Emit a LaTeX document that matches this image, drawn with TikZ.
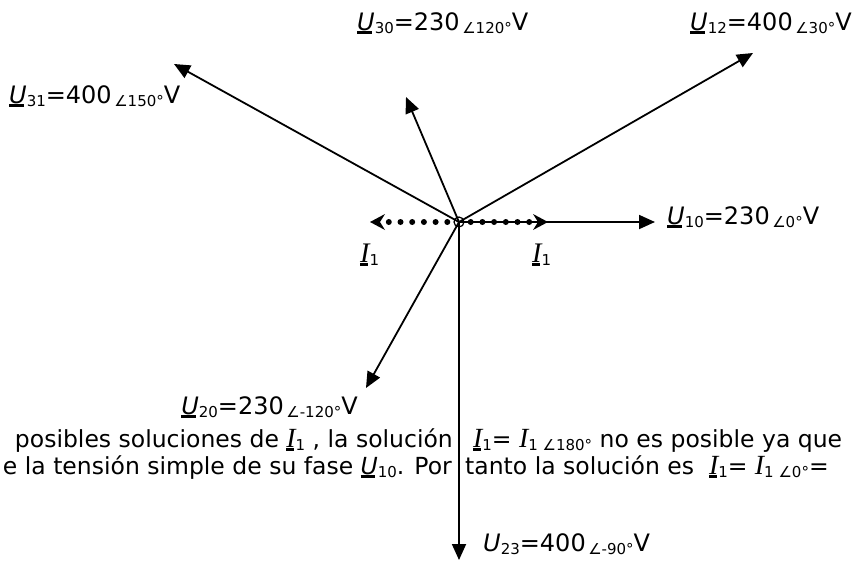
\documentclass[tikz,border=0pt]{standalone}
\usepackage{fontspec}
\usepackage{graphicx}
\setmainfont{DejaVu Sans}
\newfontfamily\serifI{Liberation Serif}
\usetikzlibrary{arrows.meta}
\newcommand\lo[1]{\raisebox{-0.3ex}{\fontsize{15}{15}\selectfont #1}}
\newcommand\vu[1]{\setbox0\hbox{#1}\rlap{\rule[-3.5pt]{0.85\wd0}{2.6pt}}\box0}
\newcommand\cI{\scalebox{1.18}{\serifI\itshape I}}
\newcommand\cU{\textit{U}}
\newcommand\phlab[4]{#1\lo{#2}=#3\lo{\,∠#4°}V}
\begin{document}
\begin{tikzpicture}[x=1pt,y=-1pt,
  vec/.style={line width=1.8pt,-{Triangle[length=16pt,width=14pt]}},
  dotvec/.style={line width=6pt,line cap=round,dash pattern=on 0pt off 11.7pt,
     -{Stealth[length=15pt,width=16pt,inset=5pt,line width=0pt]}},
  lab/.style={font=\fontsize{24}{24}\selectfont,inner sep=0pt},
  body/.style={font=\fontsize{23.5}{24}\selectfont,inner sep=0pt}]
\useasboundingbox (0,0) rectangle (856,562);
\node[circle,draw,line width=1.2pt,minimum size=10pt,inner sep=0pt] (O) at (459,222) {};
\coordinate (u10) at (655,222);
\coordinate (u12) at (753,53);
\coordinate (u30) at (406,97);
\coordinate (u31) at (174,64);
\coordinate (u20) at (366,388);
\coordinate (u23) at (459,560);
\coordinate (i1r) at (548,222);
\coordinate (i1l) at (370,222);
\draw[vec] (O.center) -- (u10);
\draw[vec] (O.center) -- (u12);
\draw[vec] (O.center) -- (u30);
\draw[vec] (O.center) -- (u31);
\draw[vec] (O.center) -- (u20);
\draw[vec] (O.center) -- (u23);
\draw[dotvec] ([xshift=11.7pt]O.center) -- (i1r);
\draw[dotvec] ([xshift=-11.7pt]O.center) -- (i1l);
% labels
\node[lab,anchor=base west] (l30) at (357,30) {\phlab{\vu{\cU}}{30}{230}{120}};
\node[lab,anchor=base west] (l12) at (690,30) {\phlab{\vu{\cU}}{12}{400}{30}};
\node[lab,anchor=base west] (l31) at (9,103) {\phlab{\vu{\cU}}{31}{400}{150}};
\node[lab,anchor=base west] (l10) at (667,224) {\phlab{\vu{\cU}}{10}{230}{0}};
\node[lab,anchor=base east] (l20) at (358,414) {\phlab{\vu{\cU}}{20}{230}{-120}};
\node[lab,anchor=base west] (l23) at (483,551) {\phlab{\cU}{23}{400}{-90}};
\node[lab,anchor=base west] (li1l) at (360,262) {\vu{\cI}\lo{1}};
\node[lab,anchor=base west] (li1r) at (532,262) {\vu{\cI}\lo{1}};
% text
\node[body,anchor=base east] (t1a) at (453,447) {posibles soluciones de \vu{\cI}\lo{1} , la solución};
\node[body,anchor=base west] (t1b) at (473,447) {\vu{\cI}\lo{1}= \cI\lo{1 ∠180°} no es posible ya que};
\node[body,anchor=base east] (t2a) at (452,474) {e la tensión simple de su fase \vu{\cU}\lo{10}. Por};
\node[body,anchor=base west] (t2b) at (465,474) {tanto la solución es \ \vu{\cI}\lo{1}= \cI\lo{1 ∠0°}=};
\end{tikzpicture}
\end{document}
